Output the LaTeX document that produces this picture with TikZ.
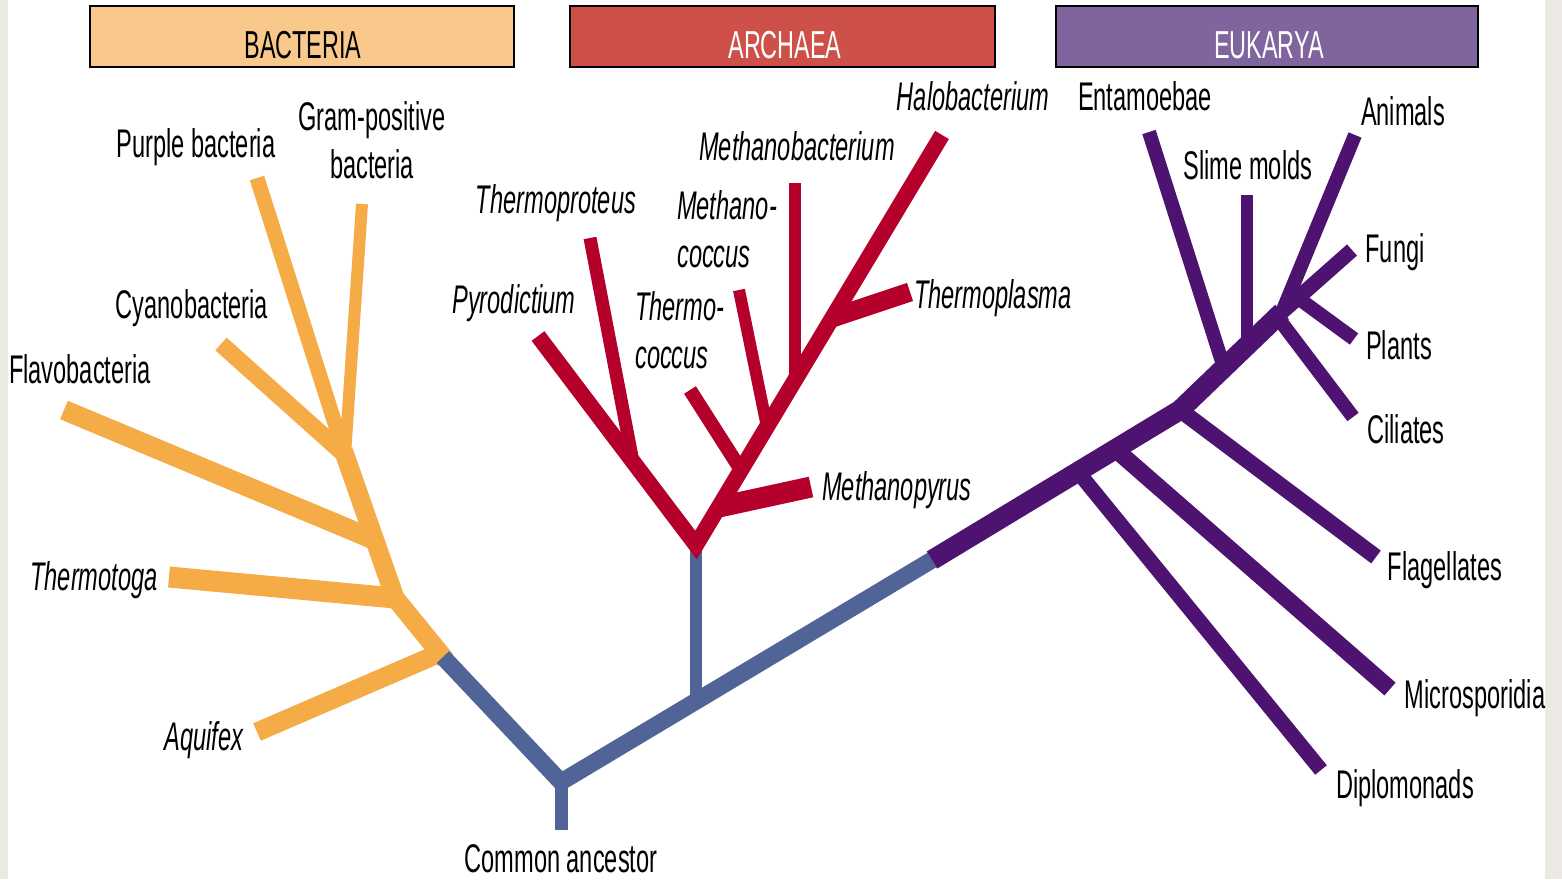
\documentclass[tikz,border=0pt]{standalone}
\usepackage{fontspec}
\setmainfont{Liberation Sans}[FakeStretch=0.59]
\newfontfamily\hdrfont{Liberation Sans}[FakeStretch=0.6]
\definecolor{bact}{HTML}{F5AC47}
\definecolor{bactbox}{HTML}{F9C98B}
\definecolor{arch}{HTML}{B4002B}
\definecolor{archbox}{HTML}{CD5149}
\definecolor{euk}{HTML}{4E1270}
\definecolor{eukbox}{HTML}{80649E}
\definecolor{trunkc}{HTML}{516497}
\definecolor{strip}{HTML}{ECE8E4}
\tikzset{
  tr/.style={line cap=butt, line join=miter, miter limit=10},
  ob/.style={tr, draw=bact, line width=#1},
  rb/.style={tr, draw=arch, line width=#1},
  pb/.style={tr, draw=euk, line width=#1},
  bl/.style={tr, draw=trunkc, line width=#1},
  lbl/.style={inner sep=0pt, anchor=base, font=\fontsize{40}{48}\selectfont},
  ilbl/.style={lbl, font=\fontsize{40}{48}\selectfont\itshape},
  hdrbox/.style={draw=black, line width=1.8pt, minimum width=#1, minimum height=61pt, inner sep=0pt},
  hdrtxt/.style={inner sep=0pt, anchor=base, font=\hdrfont\fontsize{39}{42}\selectfont},
}
\begin{document}
\begin{tikzpicture}[x=1pt,y=-1pt]
\useasboundingbox (0,0) rectangle (1562,879);
\fill[white] (0,0) rectangle (1562,879);
% side strips
\fill[strip] (0,0) rectangle (8,879);
\fill[strip] (1545,0) rectangle (1562,879);

% headers
\node[hdrbox=424pt, fill=bactbox] (hb) at (302,36.5) {};
\node[hdrtxt, text=black] (hbt) at (303,58) {BACTERIA};
\node[hdrbox=425pt, fill=archbox] (ha) at (782.5,36.5) {};
\node[hdrtxt, text=white] (hat) at (785,58) {ARCHAEA};
\node[hdrbox=422pt, fill=eukbox] (he) at (1267,36.5) {};
\node[hdrtxt, text=white] (het) at (1269,58) {EUKARYA};

% ---------- coordinates ----------
% trunk
\coordinate (root) at (561,830);
\coordinate (ca) at (561,782);
\coordinate (bj) at (443,657);
\coordinate (bjx) at (445.5,660);
\coordinate (aj) at (696,702);
\coordinate (arv) at (696,548);
\coordinate (ej) at (932,560);
% bacteria
\coordinate (ob0) at (343.3,450.3);
\coordinate (ob1) at (345,455);
\coordinate (ob2) at (375,540);
\coordinate (ob3) at (395,598);
\coordinate (aqj) at (440,653);
\coordinate (pbe) at (257,178);
\coordinate (gpe) at (362,204);
\coordinate (cye) at (221,344);
\coordinate (fle) at (64,410);
\coordinate (tte) at (169,577);
\coordinate (aqe) at (257,732);
% archaea
\coordinate (rv) at (696,545);
\coordinate (tpj) at (633,462);
\coordinate (mpj) at (719,507);
\coordinate (tcj) at (741,470);
\coordinate (mcj) at (767,427);
\coordinate (mbj) at (795,380);
\coordinate (tlj) at (832,318);
\coordinate (pye) at (538,336);
\coordinate (tpe) at (590,238);
\coordinate (tce) at (690,390);
\coordinate (mce) at (739,290);
\coordinate (mbe) at (795,183);
\coordinate (hbe) at (942,135);
\coordinate (tle) at (910,292);
\coordinate (mpe) at (811,487);
% eukarya
\coordinate (p1) at (1078,472);
\coordinate (p2) at (1115,449);
\coordinate (p3) at (1180,410);
\coordinate (p4) at (1224,368);
\coordinate (p5) at (1247,346);
\coordinate (p6) at (1282,312);
\coordinate (p6a) at (1280,317);
\coordinate (plj) at (1298,298);
\coordinate (cij) at (1278,318);
\coordinate (ene) at (1149,132);
\coordinate (sme) at (1247,195);
\coordinate (ane) at (1355,135);
\coordinate (fue) at (1352,250);
\coordinate (ple) at (1354,339);
\coordinate (cie) at (1353,417);
\coordinate (fge) at (1376,557);
\coordinate (mse) at (1390,689);
\coordinate (dpe) at (1321,770);

% ---------- bacteria ----------
\draw[ob=19pt] (ob0) -- (ob3) -- (bjx);
\draw[ob=15pt] (pbe) -- (ob1);
\draw[ob=12pt] (gpe) -- (ob1);
\draw[ob=17pt] (cye) -- (ob1);
\draw[ob=20pt] (fle) -- (ob2);
\draw[ob=21pt] (tte) -- (ob3);
\draw[ob=19pt] (aqe) -- (aqj);

% ---------- common trunk ----------
\draw[bl=13pt] (root) -- (ca);
\draw[bl=17pt] (bj) -- (ca) -- (ej);
\draw[bl=12pt] (aj) -- (arv);

% ---------- archaea ----------
\draw[rb=16pt] (pye) -- (rv) -- (hbe);
\draw[rb=13pt] (tpe) -- (tpj);
\draw[rb=14pt] (tce) -- (tcj);
\draw[rb=12pt] (mce) -- (mcj);
\draw[rb=12pt] (mbe) -- (mbj);
\draw[rb=19pt] (tle) -- (tlj);
\draw[rb=21pt] (mpe) -- (mpj);

% ---------- eukarya ----------
\draw[pb=20pt] (ej) -- (p3) -- (p6);
\draw[pb=14pt] (ene) -- (p4);
\draw[pb=12pt] (sme) -- (p5);
\draw[pb=14pt] (ane) -- (p6a);
\draw[pb=15pt] (fue) -- (p6);
\draw[pb=14pt] (ple) -- (plj);
\draw[pb=14pt] (cie) -- (cij);
\draw[pb=16pt] (fge) -- (p3);
\draw[pb=17pt] (mse) -- (p2);
\draw[pb=15pt] (dpe) -- (p1);

% ---------- labels ----------
\node[lbl] (lpb) at (196,157) {Purple bacteria};
\node[lbl, align=center] (lgp) at (372,178) {Gram-positive\\bacteria};
\node[lbl] (lcy) at (192,318) {Cyanobacteria};
\node[lbl] (lfl) at (80,383) {Flavobacteria};
\node[ilbl] (ltt) at (94,590) {Thermotoga};
\node[ilbl] (laq) at (204,750) {Aquifex};
\node[ilbl] (ltp) at (556,213) {Thermoproteus};
\node[ilbl] (lpy) at (514,313) {Pyrodictium};
\node[ilbl] (lmb) at (797,160) {Methanobacterium};
\node[ilbl, align=left, anchor=base west] (lmc) at (677,267) {Methano-\\coccus};
\node[ilbl, align=left, anchor=base west] (ltc) at (635,368) {Thermo-\\coccus};
\node[ilbl] (lhb) at (973,110) {Halobacterium};
\node[ilbl] (ltl) at (993,308) {Thermoplasma};
\node[ilbl] (lmp) at (897,500) {Methanopyrus};
\node[lbl] (len) at (1145,110) {Entamoebae};
\node[lbl] (lsm) at (1248,179) {Slime molds};
\node[lbl] (lan) at (1403,125) {Animals};
\node[lbl] (lfu) at (1395,262) {Fungi};
\node[lbl] (lpl) at (1399,359) {Plants};
\node[lbl] (lci) at (1406,443) {Ciliates};
\node[lbl] (lfg) at (1445,580) {Flagellates};
\node[lbl] (lms) at (1475,708) {Microsporidia};
\node[lbl] (ldp) at (1405,798) {Diplomonads};
\node[lbl] (lca) at (561,872) {Common ancestor};
\end{tikzpicture}
\end{document}
